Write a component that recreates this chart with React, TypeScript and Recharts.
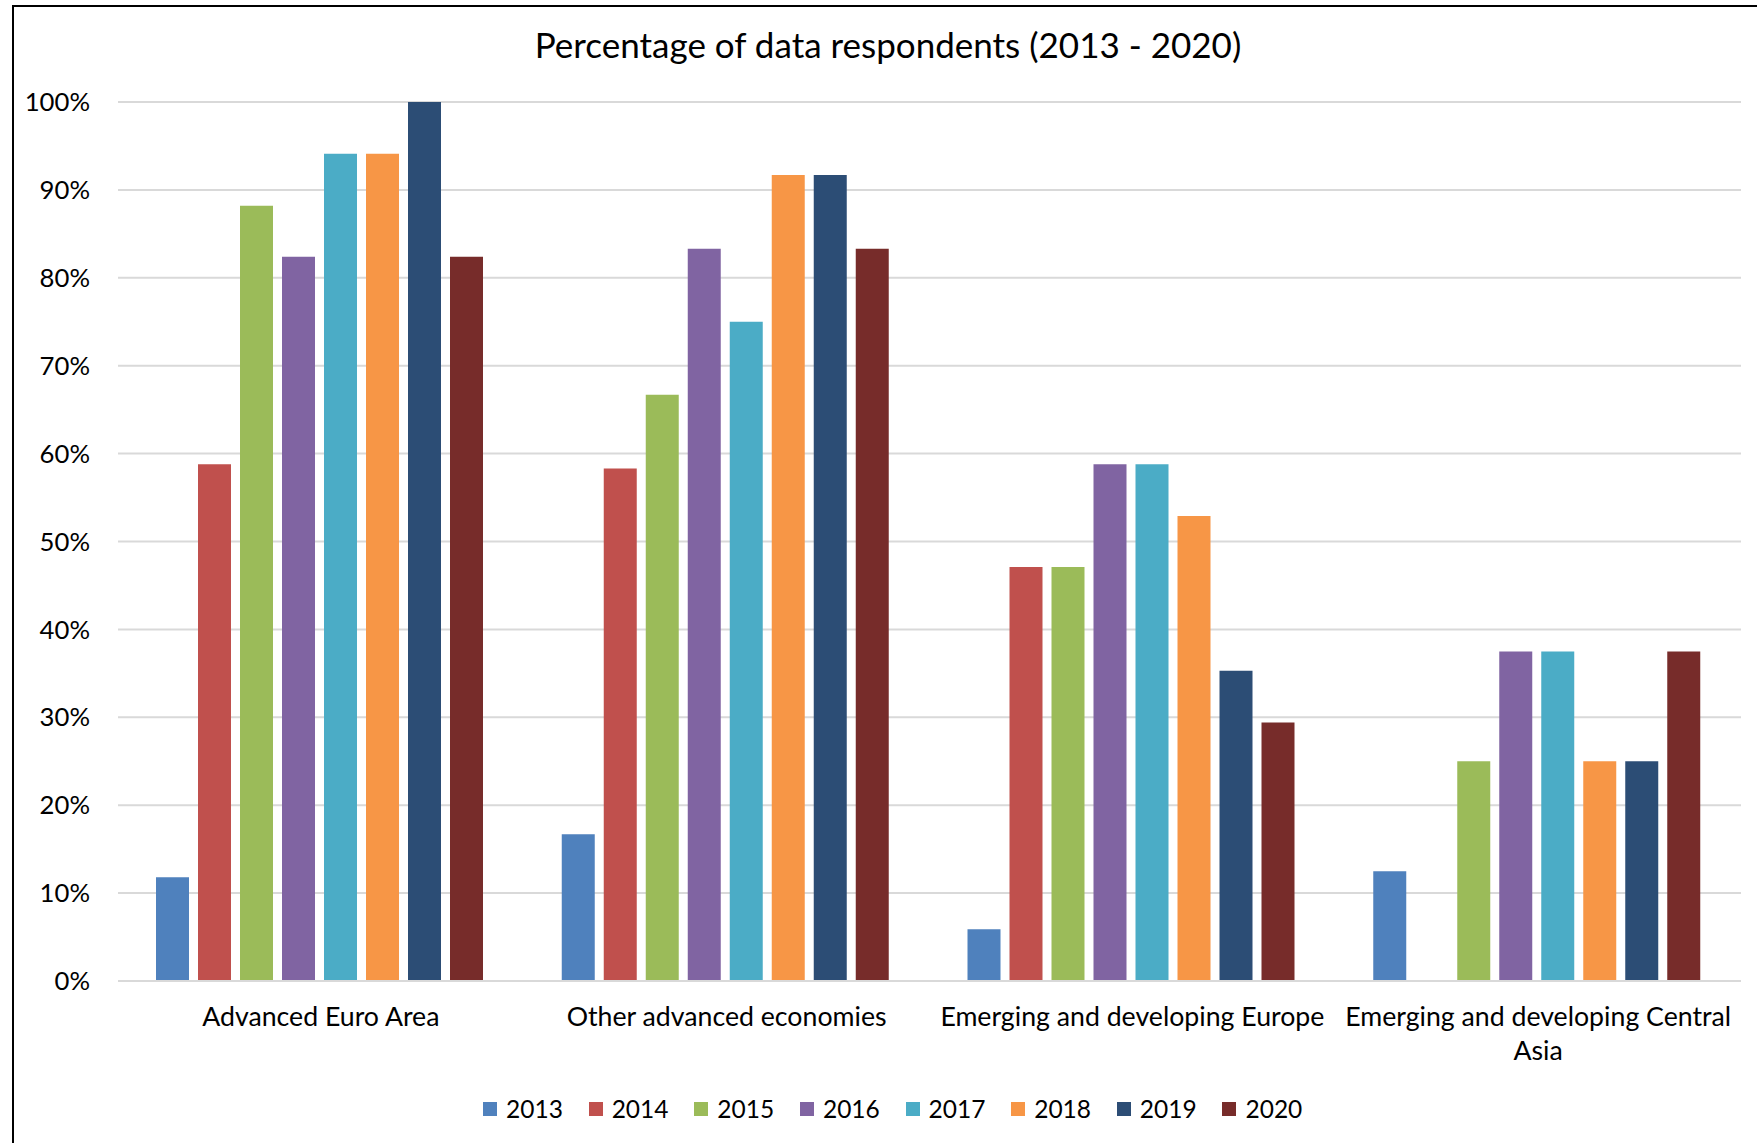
import { Bar, BarChart, CartesianGrid, Legend, XAxis, YAxis } from "recharts";

const FONT = "Lato, 'Open Sans', sans-serif";

const categories = [
  "Advanced Euro Area",
  "Other advanced economies",
  "Emerging and developing Europe",
  "Emerging and developing Central Asia",
];

const years = ["2013", "2014", "2015", "2016", "2017", "2018", "2019", "2020"];

// Excel 2010 default palette
const yearColors = [
  "#4F81BD",
  "#C0504D",
  "#9BBB59",
  "#8064A2",
  "#4BACC6",
  "#F79646",
  "#2C4D75",
  "#772C2A",
];

// % of respondents per region
const values2013 = [11.8, 16.7, 5.9, 12.5];
const values2014 = [58.8, 58.3, 47.1, null];
const values2015 = [88.2, 66.7, 47.1, 25];
const values2016 = [82.4, 83.3, 58.8, 37.5];
const values2017 = [94.1, 75, 58.8, 37.5];
const values2018 = [94.1, 91.7, 52.9, 25];
const values2019 = [100, 91.7, 35.3, 25];
const values2020 = [82.4, 83.3, 29.4, 37.5];

const yTicks = [0, 10, 20, 30, 40, 50, 60, 70, 80, 90, 100];

const seriesValues = [
  values2013,
  values2014,
  values2015,
  values2016,
  values2017,
  values2018,
  values2019,
  values2020,
];

const data = categories.map((name, i) => {
  const row: Record<string, string | number | null> = { name };
  years.forEach((y, s) => {
    row[y] = seriesValues[s][i];
  });
  return row;
});

const TICK_FONT_SIZE = 26.7;
const TICK_MAX_WIDTH = 400;

let measureCtx: CanvasRenderingContext2D | null = null;
function textWidth(s: string) {
  if (!measureCtx) measureCtx = document.createElement("canvas").getContext("2d");
  if (!measureCtx) return s.length * TICK_FONT_SIZE * 0.5;
  measureCtx.font = `${TICK_FONT_SIZE}px Lato`;
  return measureCtx.measureText(s).width;
}

// greedy word wrap so long region names break inside the band, as Excel does
function wrapLabel(label: string, maxWidth: number) {
  const lines: string[] = [];
  let cur = "";
  for (const w of label.split(" ")) {
    const next = cur ? `${cur} ${w}` : w;
    if (cur && textWidth(next) > maxWidth) {
      lines.push(cur);
      cur = w;
    } else {
      cur = next;
    }
  }
  if (cur) lines.push(cur);
  return lines;
}

function CategoryTick({ x, y, payload }: any) {
  const lines = wrapLabel(String(payload.value), TICK_MAX_WIDTH);
  return (
    <text
      x={x}
      y={y}
      textAnchor="middle"
      fontSize={TICK_FONT_SIZE}
      fontFamily={FONT}
      fill="#000"
    >
      {lines.map((line, i) => (
        <tspan key={i} x={x} dy={i === 0 ? "0.71em" : 34}>
          {line}
        </tspan>
      ))}
    </text>
  );
}

function YearLegend({ payload }: any) {
  return (
    <div
      style={{
        display: "flex",
        paddingLeft: 483,
        fontFamily: FONT,
        fontSize: 24.5,
        color: "#000",
        lineHeight: "30px",
      }}
    >
      {(payload ?? []).map((p: any) => (
        <div key={p.value} style={{ display: "flex", alignItems: "center", marginRight: 25.8 }}>
          <span
            style={{
              display: "inline-block",
              width: 14,
              height: 14,
              background: p.color,
              marginRight: 9,
            }}
          />
          {p.value}
        </div>
      ))}
    </div>
  );
}

export default function App() {
  return (
    <div
      style={{
        position: "absolute",
        left: 0,
        top: 0,
        width: 1757,
        height: 1143,
        background: "#fff",
        overflow: "hidden",
      }}
    >
      <div
        style={{
          position: "absolute",
          left: 12,
          top: 5,
          width: 1757,
          height: 1143,
          borderLeft: "2px solid #000",
          borderTop: "2px solid #000",
        }}
      />
      <div
        style={{
          position: "absolute",
          left: 388,
          top: 23,
          width: 1000,
          textAlign: "center",
          fontFamily: FONT,
          fontSize: 35,
          lineHeight: "42px",
          color: "#000",
        }}
      >
        Percentage of data respondents (2013 - 2020)
      </div>
      <BarChart
        width={1757}
        height={1143}
        data={data}
        margin={{ top: 102, right: 16, bottom: 102, left: 0 }}
        barCategoryGap={38}
        barGap={9}
      >
        <CartesianGrid vertical={false} stroke="#D9D9D9" strokeWidth={2} />
        <XAxis
          dataKey="name"
          height={60}
          tickLine={false}
          axisLine={{ stroke: "#D9D9D9", strokeWidth: 2 }}
          tickSize={0}
          tickMargin={26}
          interval={0}
          tick={<CategoryTick />}
        />
        <YAxis
          width={118}
          domain={[0, 100]}
          ticks={yTicks}
          tickFormatter={(v: number) => `${v}%`}
          tickLine={false}
          axisLine={false}
          tickSize={0}
          tickMargin={28}
          tick={{ fontSize: 25.7, fontFamily: FONT, fill: "#000" }}
        />
        <Legend
          verticalAlign="middle"
          layout="horizontal"
          align="center"
          content={<YearLegend />}
          wrapperStyle={{ top: 1094, left: 0, width: 1757 }}
        />
        {years.map((y, i) => (
          <Bar key={y} dataKey={y} name={y} fill={yearColors[i]} isAnimationActive={false} />
        ))}
      </BarChart>
    </div>
  );
}
